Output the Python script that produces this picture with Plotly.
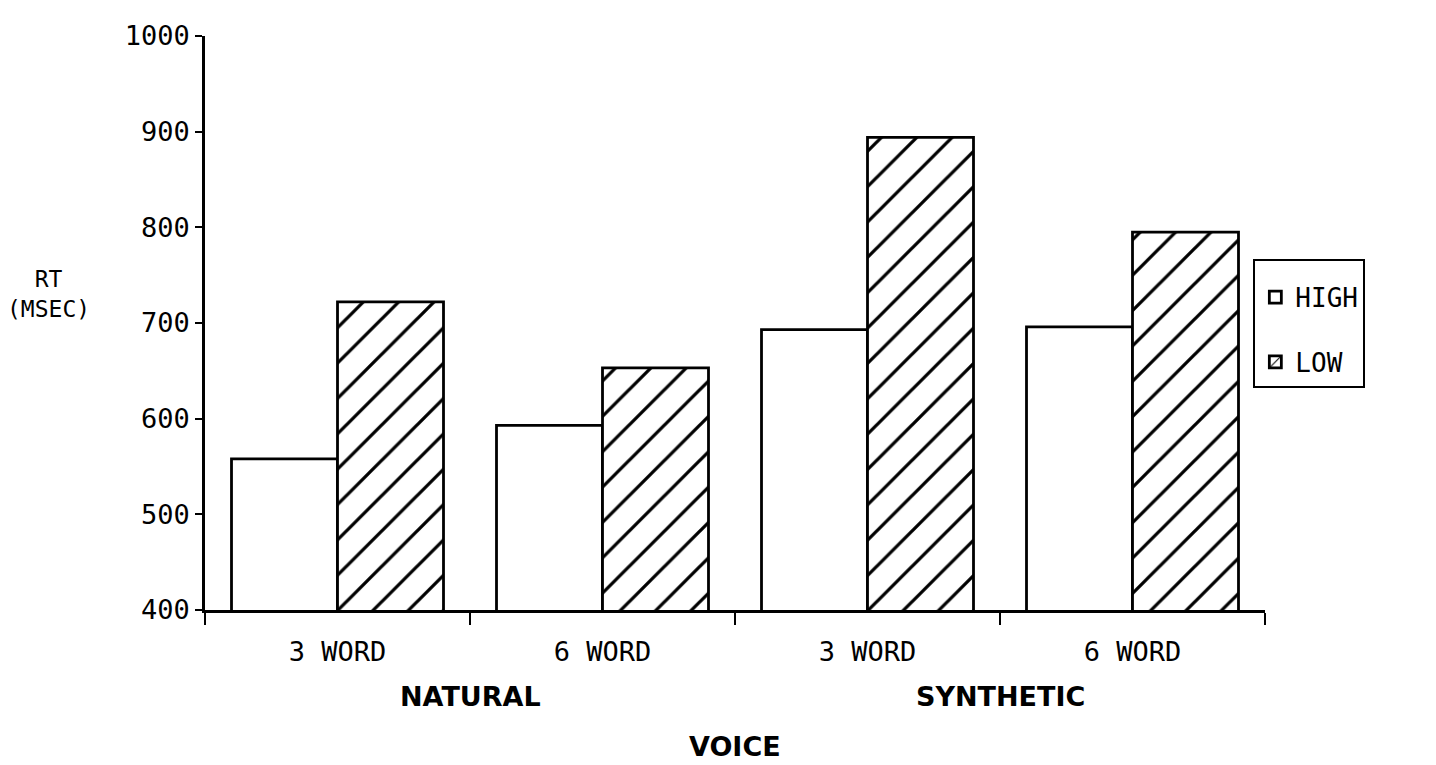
import plotly.graph_objects as go

# reaction time by voice / list length, high vs low predictability
voices = ["NATURAL", "NATURAL", "SYNTHETIC", "SYNTHETIC"]
list_lengths = ["3 WORD", "6 WORD", "3 WORD", "6 WORD"]
high_rt = [558, 593, 693, 696]
low_rt = [722, 653, 894, 795]
y_ticks = [400, 500, 600, 700, 800, 900, 1000]

MONO = "DejaVu Sans Mono"
BOLD = "DejaVu Sans"

x_pos = list(range(len(list_lengths)))

fig = go.Figure()
fig.add_trace(go.Bar(
    x=x_pos, y=high_rt, name="HIGH", legendgroup="high",
    marker=dict(color="white", line=dict(color="black", width=2.8)),
))
fig.add_trace(go.Bar(
    x=x_pos, y=low_rt, name="LOW", legendgroup="low",
    marker=dict(
        color="white",
        line=dict(color="black", width=2.8),
        pattern=dict(shape="/", fgcolor="black", fgopacity=1, bgcolor="white",
                     size=25, solidity=0.13),
    ),
))

# group labels centred under their pair of categories
bold_font = dict(family=BOLD, size=27, color="black", weight="bold")
annotations = []
for v in dict.fromkeys(voices):
    idx = [i for i, name in enumerate(voices) if name == v]
    annotations.append(dict(
        x=sum(idx) / len(idx), xref="x", y=-0.15, yref="paper",
        xanchor="center", yanchor="middle",
        text=v, showarrow=False, font=bold_font,
    ))
annotations.append(dict(
    x=(len(x_pos) - 1) / 2, xref="x", y=-0.238, yref="paper",
    xanchor="center", yanchor="middle",
    text="VOICE", showarrow=False, font=bold_font,
))
annotations.append(dict(
    x=-0.148, xref="paper", y=0.55, yref="paper",
    xanchor="center", yanchor="middle",
    text="RT<br>(MSEC)", showarrow=False, font=dict(family=MONO, size=23, color="black"),
))

# page body has an 8px margin, so shift margins to keep the plot area in place
fig.update_layout(
    width=1436, height=765,
    margin=dict(l=197, r=179, t=22, b=163),
    paper_bgcolor="white", plot_bgcolor="white",
    barmode="group", bargap=0.2, bargroupgap=0,
    font=dict(family=MONO, color="black"),
    showlegend=True,
    legend=dict(
        x=0.989, y=0.612, xanchor="left", yanchor="top",
        bordercolor="black", borderwidth=2, bgcolor="white",
        font=dict(family=MONO, size=26, color="black"),
        title=dict(text=" ", font=dict(size=10)),
        tracegroupgap=28, traceorder="grouped",
    ),
    annotations=annotations,
    xaxis=dict(
        range=[-0.5, len(x_pos) - 0.5],
        tickmode="array", tickvals=x_pos, ticktext=list_lengths,
        ticks="", ticklabelstandoff=16,
        tickfont=dict(family=MONO, size=27, color="black"),
        showline=True, linecolor="black", linewidth=2.5,
        showgrid=False, zeroline=False,
        minor=dict(
            tickmode="array", tickvals=[i - 0.5 for i in range(len(x_pos) + 1)],
            ticks="outside", ticklen=12, tickwidth=2, tickcolor="black", showgrid=False,
        ),
    ),
    yaxis=dict(
        range=[y_ticks[0], y_ticks[-1]],
        tickmode="array", tickvals=y_ticks,
        ticks="outside", ticklen=7, tickwidth=2, tickcolor="black",
        tickfont=dict(family=MONO, size=27, color="black"),
        showline=True, linecolor="black", linewidth=2.5,
        showgrid=False, zeroline=False,
    ),
)

fig.write_html("out.html")
